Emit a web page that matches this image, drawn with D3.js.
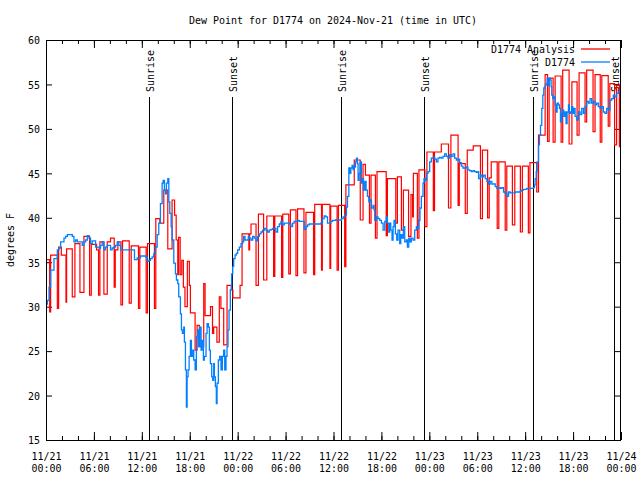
<!DOCTYPE html>
<html><head><meta charset="utf-8">
<script src="https://cdn.jsdelivr.net/npm/d3@7"></script>
<style>body{margin:0;background:#fff}</style>
</head><body><svg id="c" width="640" height="480"></svg>
<script>
const title = "Dew Point for D1774 on 2024-Nov-21 (time in UTC)";
const yLabel = "degrees F";
const seriesNames = ["D1774 Analysis", "D1774"];
const startUTC = Date.UTC(2024, 10, 21);
const yTicks = [15, 20, 25, 30, 35, 40, 45, 50, 55, 60];
const xLabelHours = [0, 6, 12, 18, 24, 30, 36, 42, 48, 54, 60, 66, 72];
const xMinorHours = d3.range(0, 73, 2);
const sunEvents = [["Sunrise", 12.92], ["Sunset", 23.29], ["Sunrise", 36.92], ["Sunset", 47.29], ["Sunrise", 60.92], ["Sunset", 71.17]];

// analysis: [hours since 11/21 00:00 UTC, deg F] step changes
const analysis = [
[0,35.3],[0.46,29.4],[0.58,35.8],[1.42,29.8],[1.58,36.7],[1.92,35.8],[2.5,30.5],[2.58,36.5],[3.29,31.1],[3.62,37.1],
[4.25,31.6],[4.75,37.9],[5.46,31.3],[5.67,37.0],[6.33,36.4],[6.58,31.3],[6.75,37.3],[7.25,31.4],[7.67,37.3],[8.08,37.7],
[8.54,32.2],[8.67,36.4],[9.0,37.3],[9.38,30.2],[9.58,37.4],[10.42,30.4],[10.67,36.85],[11.58,29.8],[11.75,36.7],[12.54,29.3],
[12.71,37.1],[13.58,29.8],[13.75,39.9],[14.25,39.4],[14.75,43.1],[15.25,36.5],[15.79,42.0],[16.1,40.3],[16.3,37.5],[16.5,33.6],
[16.6,37.8],[16.8,33.6],[17.0,35.2],[17.2,32.2],[17.4,30.0],[17.7,35.1],[17.95,32.4],[18.08,29.3],[18.67,25.1],[18.92,27.9],
[19.2,25.5],[19.75,32.6],[19.92,29.0],[20.6,30.0],[20.85,27.0],[21.0,27.7],[21.4,26.0],[21.7,31.1],[21.9,29.8],[22.25,25.7],
[22.67,32.4],[23.2,31.9],[23.4,31.0],[24.3,32.4],[24.55,38.2],[25.4,36.4],[25.5,38.2],[25.67,39.3],[26.3,32.4],[26.6,40.4],
[27.25,33.0],[27.65,40.2],[28.5,33.4],[28.65,40.2],[29.5,33.3],[29.65,40.4],[30.4,33.7],[30.6,40.9],[31.3,33.5],[31.5,41.0],
[32.3,33.8],[32.55,40.6],[33.5,33.6],[33.65,41.5],[34.5,34.1],[34.6,41.5],[35.55,34.3],[35.65,41.3],[36.45,34.1],[36.62,41.4],
[37.4,34.5],[37.55,43.7],[38.6,46.5],[39.35,39.75],[39.7,46.0],[40.0,44.8],[40.5,39.4],[40.7,44.8],[41.25,37.7],[41.45,45.2],
[42.6,38.0],[42.75,44.4],[43.8,39.4],[44.0,44.6],[44.5,38.6],[44.75,43.1],[45.4,37.9],[45.7,42.6],[45.9,40.1],[46.0,45.0],
[46.5,37.7],[46.7,45.4],[47.45,39.0],[47.7,47.4],[48.5,40.8],[48.65,47.4],[49.5,48.3],[50.4,41.1],[50.7,49.3],[51.6,41.4],
[51.75,46.1],[52.5,40.5],[52.75,47.6],[53.5,48.1],[54.4,39.9],[54.65,47.6],[55.3,40.0],[55.5,44.5],[55.75,46.3],[56.5,38.8],
[56.7,46.3],[57.5,38.6],[57.7,45.8],[58.4,39.2],[58.7,45.8],[59.4,38.4],[59.65,45.8],[60.4,38.3],[60.6,46.2],[61.45,42.9],
[61.67,49.3],[62.5,56.1],[62.8,48.6],[63.0,55.7],[63.5,48.5],[63.75,55.95],[64.5,48.5],[64.7,56.6],[65.5,48.3],[65.85,55.3],
[66.5,49.3],[66.75,56.3],[67.5,50.8],[67.7,56.6],[68.5,49.7],[68.75,56.1],[69.4,48.5],[69.6,56.0],[70.4,50.3],[70.6,55.1],
[71.2,48.2],[71.45,54.9],[71.8,48.0],[72,48.0]
];

// observations: [hours since 11/21 00:00 UTC, deg F]
const observed = [
[0,30.3],[0.17,30.7],[0.38,32.2],[0.58,34.1],[1.0,35.4],[1.42,36.4],[1.63,36.6],[1.83,37.3],[2.04,37.3],[2.25,37.7],
[2.46,37.9],[2.67,38.1],[3.08,38.1],[3.29,37.9],[3.5,37.3],[3.71,37.5],[3.92,37.3],[4.33,37.3],[4.54,36.9],[4.75,37.3],
[4.96,37.5],[5.17,38.0],[5.38,37.7],[5.58,37.1],[5.79,37.4],[6.0,37.4],[6.21,36.7],[6.62,36.6],[6.83,36.9],[7.04,37.3],
[7.25,36.4],[7.46,36.7],[7.67,36.9],[7.88,36.9],[8.08,36.4],[8.29,36.6],[8.5,36.7],[8.71,36.9],[8.92,37.3],[9.12,36.9],
[9.33,36.4],[11.0,36.4],[11.08,35.3],[11.42,35.5],[11.83,35.7],[12.25,35.7],[12.46,35.6],[12.67,35.1],[12.88,35.2],[13.08,35.4],
[13.29,35.6],[13.5,36.0],[13.71,36.7],[13.92,38.1],[14.12,39.4],[14.33,41.6],[14.54,43.9],[14.67,44.2],[14.83,43.1],[14.96,42.7],
[15.08,43.9],[15.25,44.4],[15.38,41.8],[15.5,40.5],[15.67,39.0],[15.79,37.5],[16.0,34.9],[16.21,33.7],[16.33,33.0],[16.5,32.6],
[16.62,31.1],[16.83,29.2],[16.96,27.4],[17.08,27.0],[17.25,27.7],[17.33,26.0],[17.46,22.9],[17.58,18.7],[17.67,22.1],[17.79,22.9],
[17.92,24.4],[18.08,26.2],[18.21,24.4],[18.38,25.1],[18.5,24.0],[18.67,22.9],[18.83,26.6],[19.0,27.4],[19.12,25.5],[19.25,27.7],
[19.42,25.1],[19.54,26.2],[19.71,24.0],[19.83,24.4],[20.04,27.0],[20.17,28.1],[20.33,27.7],[20.46,25.1],[20.58,23.6],[20.75,22.1],
[20.88,21.7],[21.0,23.6],[21.08,22.1],[21.21,21.0],[21.33,19.1],[21.42,21.4],[21.58,24.0],[21.75,24.4],[21.92,22.9],[22.08,24.4],
[22.25,25.1],[22.38,22.9],[22.54,24.4],[22.67,25.5],[22.79,27.4],[22.92,29.6],[23.08,31.9],[23.25,33.7],[23.38,34.5],[23.5,35.4],
[23.67,35.8],[23.83,36.0],[24.0,36.4],[24.21,36.7],[24.42,37.1],[24.62,37.3],[24.75,37.9],[24.92,37.5],[25.17,37.5],[25.33,37.9],
[25.46,37.7],[25.67,37.5],[25.88,37.9],[26.08,37.7],[26.29,37.4],[26.5,37.9],[26.71,38.2],[26.92,38.4],[27.12,38.6],[27.33,38.8],
[27.54,38.6],[27.75,38.4],[27.96,38.6],[28.17,38.7],[28.38,38.8],[28.58,38.8],[28.79,38.4],[29.0,39.0],[29.21,39.3],[29.42,39.6],
[29.62,39.2],[29.83,39.4],[30.04,39.4],[30.25,39.4],[30.46,39.3],[30.67,39.0],[30.88,39.4],[31.08,39.6],[31.29,39.6],[31.5,39.7],
[31.71,39.6],[31.92,39.6],[32.12,39.6],[32.33,38.7],[32.54,39.0],[32.75,39.2],[32.96,39.3],[33.58,39.3],[34.0,39.3],[34.42,39.4],
[34.62,39.9],[34.83,40.2],[35.04,40.1],[35.25,39.4],[35.46,39.4],[35.67,39.6],[35.88,39.7],[36.08,39.7],[36.29,39.8],[36.38,39.75],
[37.0,39.9],[37.21,40.1],[37.42,40.3],[37.62,41.2],[37.75,42.4],[37.92,45.6],[38.04,45.0],[38.17,45.6],[38.33,45.9],[38.46,45.4],
[38.58,45.7],[38.75,46.3],[38.88,46.7],[39.0,46.1],[39.08,44.2],[39.21,45.0],[39.33,46.3],[39.5,43.9],[39.62,44.4],[39.75,43.1],
[39.92,44.1],[40.08,43.1],[40.25,42.4],[40.42,41.8],[40.54,42.0],[40.75,41.1],[40.96,41.4],[41.08,40.9],[41.17,39.7],[41.38,40.1],
[41.58,39.9],[41.79,39.7],[42.0,39.4],[42.21,38.6],[42.42,39.6],[42.62,40.1],[42.75,39.4],[42.92,38.4],[43.04,39.4],[43.17,38.6],
[43.33,37.5],[43.46,39.0],[43.58,39.7],[43.75,38.2],[43.92,37.5],[44.08,38.6],[44.29,37.1],[44.42,38.1],[44.58,37.7],[44.75,39.0],
[44.92,37.3],[45.12,37.5],[45.25,36.7],[45.42,37.7],[45.58,37.3],[45.75,37.7],[45.96,37.5],[46.17,38.6],[46.38,39.0],[46.5,38.8],
[46.67,39.7],[46.83,41.1],[47.0,42.4],[47.21,43.9],[47.33,44.4],[47.5,44.2],[47.67,45.0],[47.83,45.2],[48.04,46.3],[48.25,46.7],
[48.46,46.8],[48.67,46.6],[48.88,46.3],[49.08,46.7],[49.29,46.8],[49.5,46.7],[49.71,46.9],[49.92,47.2],[50.12,46.9],[50.33,46.7],
[50.54,47.1],[50.75,46.9],[50.96,47.2],[51.17,46.7],[51.38,46.5],[51.58,46.6],[51.79,46.2],[52.0,45.8],[52.21,45.6],[52.42,45.6],
[52.62,45.7],[52.83,45.4],[53.04,45.3],[53.25,45.2],[53.46,45.3],[53.67,45.2],[53.88,45.1],[54.08,45.2],[54.17,44.4],[54.38,44.8],
[54.58,44.6],[54.79,44.8],[55.0,44.4],[55.21,44.1],[55.42,43.8],[55.62,44.1],[55.83,43.8],[56.04,43.8],[56.25,43.5],[56.46,43.3],
[56.67,43.4],[56.88,43.3],[57.08,43.4],[57.29,42.9],[57.5,42.75],[57.71,42.4],[57.92,42.9],[58.12,42.8],[58.54,42.8],[58.75,42.9],
[59.17,42.9],[59.38,43.0],[59.58,43.1],[59.79,43.2],[60.0,43.2],[60.21,43.3],[60.83,43.3],[61.04,43.4],[61.17,43.7],[61.25,44.4],
[61.38,45.2],[61.5,46.3],[61.67,48.2],[61.79,49.3],[61.92,50.4],[62.08,52.3],[62.21,53.8],[62.33,54.6],[62.5,54.9],[62.62,55.1],
[62.75,55.7],[62.88,54.9],[63.0,55.7],[63.12,55.5],[63.25,54.75],[63.33,53.8],[63.46,53.4],[63.58,53.6],[63.75,52.7],[63.88,51.9],
[64.0,52.9],[64.17,52.7],[64.29,52.3],[64.42,50.8],[64.58,51.75],[64.71,52.1],[64.83,51.4],[65.0,51.9],[65.12,50.6],[65.25,51.9],
[65.42,52.7],[65.54,51.75],[65.67,51.9],[65.83,52.5],[65.96,51.75],[66.08,52.3],[66.25,51.4],[66.46,51.0],[66.67,51.9],[66.88,51.6],
[67.08,52.3],[67.29,51.75],[67.5,52.5],[67.71,53.1],[67.92,52.9],[68.12,53.4],[68.33,52.9],[68.54,53.1],[68.75,52.7],[68.96,52.9],
[69.17,52.5],[69.38,52.3],[69.58,52.5],[69.79,51.9],[70.0,51.75],[70.21,52.3],[70.42,52.1],[70.62,53.25],[70.83,53.4],[71.04,53.8],
[71.25,53.6],[71.46,54.0],[71.67,54.2],[72,54.2]
];

const H = h => new Date(startUTC + h * 3600000);
const FONT = "'DejaVu Sans Mono', monospace";
const CW = 6; // character advance of reference font
const FS = 11;
const svg = d3.select("#c");
const P = {l: 46, r: 621, t: 40, b: 440};
const x = d3.scaleUtc().domain([H(0), H(72)]).range([P.l, P.r]);
const y = d3.scaleLinear().domain([15, 60]).range([P.b, P.t]);

function fitText(sel) {
  sel.each(function() {
    const s = d3.select(this), t = s.text();
    if (t) s.attr("textLength", t.length * CW).attr("lengthAdjust", "spacingAndGlyphs");
  });
}

svg.append("rect").attr("width", 640).attr("height", 480).attr("fill", "#fff");

// title
svg.append("text").attr("x", 333).attr("y", 24).attr("text-anchor", "middle")
  .attr("font-family", FONT).attr("font-size", FS).text(title).call(fitText);

// y label
svg.append("text").attr("transform", "translate(14,240) rotate(-90)").attr("text-anchor", "middle")
  .attr("font-family", FONT).attr("font-size", FS).text(yLabel).call(fitText);

const defs = svg.append("defs");
defs.append("clipPath").attr("id", "clip").append("rect")
  .attr("x", P.l).attr("y", P.t).attr("width", P.r - P.l).attr("height", P.b - P.t);

// sunrise / sunset markers
const sun = svg.append("g");
sunEvents.forEach(([label, h]) => {
  const sx = Math.round(x(H(h))) + 0.5;
  sun.append("line").attr("x1", sx).attr("x2", sx).attr("y1", 97).attr("y2", P.b)
    .attr("stroke", "#000").attr("stroke-width", 1);
  sun.append("text").attr("transform", `translate(${sx + 4},92) rotate(-90)`)
    .attr("font-family", FONT).attr("font-size", FS).text(label).call(fitText);
});

// axes ticks
function styleAxis(g) {
  g.select(".domain").remove();
  g.selectAll(".tick line").attr("stroke", "#000");
  g.selectAll("text").attr("font-family", FONT).attr("font-size", FS).attr("fill", "#000");
}
svg.append("g").attr("transform", `translate(0,${P.b})`)
  .call(d3.axisBottom(x).tickValues(xMinorHours.map(H)).tickSizeInner(-4).tickSizeOuter(0).tickFormat(""))
  .call(styleAxis);
svg.append("g").attr("transform", `translate(0,${P.t})`)
  .call(d3.axisTop(x).tickValues(xMinorHours.map(H)).tickSizeInner(-4).tickSizeOuter(0).tickFormat(""))
  .call(styleAxis);
svg.append("g").attr("transform", `translate(0,${P.t})`)
  .call(d3.axisTop(x).tickValues(xLabelHours.map(H)).tickSizeInner(-8).tickSizeOuter(0).tickFormat(""))
  .call(styleAxis);
const fmtDay = d3.utcFormat("%m/%d"), fmtTime = d3.utcFormat("%H:%M");
const xb = svg.append("g").attr("transform", `translate(0,${P.b})`)
  .call(d3.axisBottom(x).tickValues(xLabelHours.map(H)).tickSizeInner(-8).tickSizeOuter(0).tickFormat(""))
  .call(styleAxis);
xb.selectAll(".tick").each(function(d) {
  const g = d3.select(this);
  g.append("text").attr("y", 20).attr("text-anchor", "middle").attr("font-family", FONT)
    .attr("font-size", FS).attr("fill", "#000").text(fmtDay(d)).call(fitText);
  g.append("text").attr("y", 32).attr("text-anchor", "middle").attr("font-family", FONT)
    .attr("font-size", FS).attr("fill", "#000").text(fmtTime(d)).call(fitText);
});
const yl = svg.append("g").attr("transform", `translate(${P.l},0)`)
  .call(d3.axisLeft(y).tickValues(yTicks).tickSizeInner(-6).tickSizeOuter(0).tickPadding(6).tickFormat(d3.format("d")))
  .call(styleAxis);
yl.selectAll("text").attr("dy", "0.35em").call(fitText);
svg.append("g").attr("transform", `translate(${P.r},0)`)
  .call(d3.axisRight(y).tickValues(yTicks).tickSizeInner(-6).tickSizeOuter(0).tickFormat(""))
  .call(styleAxis);

// data lines
const line = d3.line().x(d => x(H(d[0]))).y(d => y(d[1])).curve(d3.curveStepAfter);
const plot = svg.append("g").attr("clip-path", "url(#clip)");
plot.append("path").datum(analysis).attr("d", line).attr("fill", "none")
  .attr("stroke", "#ff0000").attr("stroke-width", 1.2);
plot.append("path").datum(observed).attr("d", line).attr("fill", "none")
  .attr("stroke", "#0080ff").attr("stroke-width", 1.3);

// frame
svg.append("rect").attr("x", P.l + 0.5).attr("y", P.t + 0.5).attr("width", P.r - P.l - 1).attr("height", P.b - P.t)
  .attr("fill", "none").attr("stroke", "#000").attr("stroke-width", 1);

// legend
const legColors = ["#ff0000", "#0080ff"];
seriesNames.forEach((name, i) => {
  const ly = 49 + i * 13;
  svg.append("text").attr("x", 575).attr("y", ly + 4).attr("text-anchor", "end")
    .attr("font-family", FONT).attr("font-size", FS).text(name).call(fitText);
  svg.append("line").attr("x1", 581).attr("x2", 610).attr("y1", ly).attr("y2", ly)
    .attr("stroke", legColors[i]).attr("stroke-width", 1.3);
});
</script></body></html>
